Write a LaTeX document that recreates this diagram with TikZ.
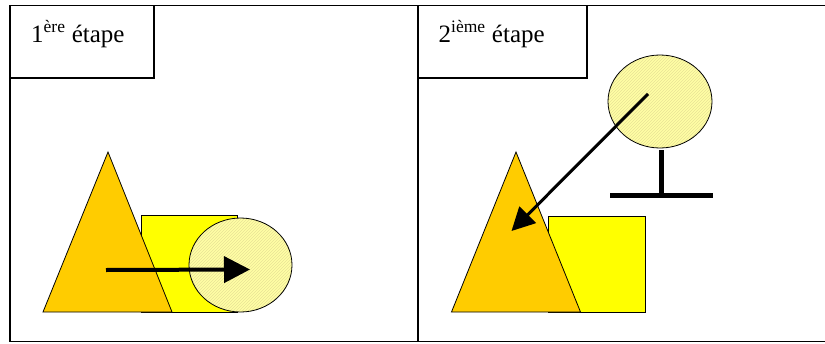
\documentclass[tikz,border=0pt]{standalone}
\usepackage{fontspec}
\setmainfont{Liberation Serif}
\usetikzlibrary{arrows.meta,patterns}
\definecolor{triorange}{RGB}{255,204,0}
\definecolor{sqyellow}{RGB}{255,255,0}
\definecolor{balllight}{RGB}{255,255,165}
\definecolor{ballhatch}{RGB}{232,226,150}
\tikzset{
  frameline/.style={line width=1.6pt,black},
  labelbox/.style={draw=black,line width=1.3pt},
  labeltext/.style={anchor=base west,inner sep=0pt,font=\fontsize{25}{30}\selectfont},
  tri/.style={fill=triorange,draw=black,line width=0.8pt,line join=miter},
  sq/.style={fill=sqyellow,draw=black,line width=0.8pt},
  ball/.style={fill=balllight},
  ballpat/.style={pattern=north east lines,pattern color=ballhatch},
  ballline/.style={draw=black,line width=0.8pt},
  movearrow/.style={line width=#1,-{Triangle[length=26pt,width=26pt]}},
  movearrowb/.style={line width=#1,-{Triangle[length=23pt,width=23pt]}},
  stand/.style={line width=5pt,black}
}
\begin{document}
\begin{tikzpicture}[x=1pt,y=-1pt]
\useasboundingbox (0,0) rectangle (825,343);
% frame
\coordinate (tl) at (10,5.5);
\coordinate (tr) at (825,5.5);
\coordinate (bl) at (10,341.5);
\coordinate (br) at (825,341.5);
\coordinate (mt) at (418,5.5);
\coordinate (mb) at (418,341.5);
\draw[frameline] (tr) -- (tl) -- (bl) -- (br);
\draw[frameline] (mt) -- (mb);
% label boxes
\draw[labelbox] (10,5.5) rectangle (154,78);
\node[labeltext] (lab1) at (31,42) {1\textsuperscript{ère} étape};
\draw[labelbox] (418,5.5) rectangle (587,78);
\node[labeltext] (lab2) at (438.5,42) {2\textsuperscript{ième} étape};
% ---- step 1 ----
\draw[sq] (141,215) rectangle (237,312);
\draw[tri] (108,152) -- (172,312) -- (43,312) -- cycle;
\fill[ball] (240.5,265) ellipse [x radius=51.5, y radius=47];
\path[ballpat] (240.5,265) ellipse [x radius=51.5, y radius=47];
\draw[ballline] (240.5,265) ellipse [x radius=51.5, y radius=47];
\coordinate (a1s) at (106,270);
\coordinate (a1e) at (250,269.5);
\draw[movearrow=4pt] (a1s) -- (a1e);
% ---- step 2 ----
\draw[sq] (548,216) rectangle (645.5,312);
\draw[tri] (516,152) -- (580.5,312) -- (451.5,312) -- cycle;
\fill[ball] (660,101.5) ellipse [x radius=52, y radius=46.5];
\path[ballpat] (660,101.5) ellipse [x radius=52, y radius=46.5];
\draw[ballline] (660,101.5) ellipse [x radius=52, y radius=46.5];
\coordinate (st) at (661.5,150);
\coordinate (sb) at (661.5,195.5);
\coordinate (bl2) at (610,195.5);
\coordinate (br2) at (713,195.5);
\draw[stand] (st) -- (sb);
\draw[stand] (bl2) -- (br2);
\coordinate (a2s) at (648,94);
\coordinate (a2e) at (511.5,231);
\draw[movearrowb=3pt] (a2s) -- (a2e);
\end{tikzpicture}
\end{document}
